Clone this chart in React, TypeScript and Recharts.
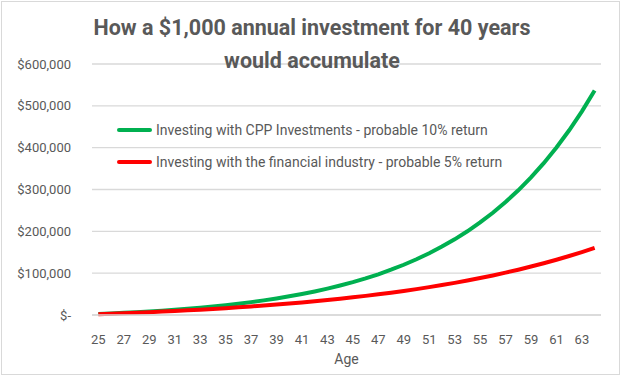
import React from 'react';
import { LineChart, Line, XAxis, YAxis, CartesianGrid, Legend } from 'recharts';

const AGES = [
  25, 26, 27, 28, 29, 30, 31, 32, 33, 34, 35, 36, 37, 38, 39, 40, 41, 42, 43, 44,
  45, 46, 47, 48, 49, 50, 51, 52, 53, 54, 55, 56, 57, 58, 59, 60, 61, 62, 63, 64,
];

// 10% return series
const CPP_VALUES = [
  2300, 3600, 5100, 6700, 8500, 10400, 12600, 14900, 17500, 20400,
  23500, 27000, 30800, 35000, 39500, 44600, 50200, 56300, 63000, 70400,
  78500, 87500, 97300, 108200, 120100, 133200, 147600, 163500, 180900, 200100,
  221300, 244500, 270000, 298100, 329000, 363000, 400400, 441600, 486900, 536600,
];

// 5% return series
const INDUSTRY_VALUES = [
  2000, 3100, 4300, 5500, 6800, 8200, 9600, 11200, 12800, 14600,
  16400, 18400, 20400, 22600, 25000, 27400, 30000, 32800, 35800, 38900,
  42200, 45700, 49400, 53300, 57500, 61900, 66600, 71600, 76800, 82400,
  88300, 94600, 101300, 108300, 115800, 123700, 132100, 141000, 150400, 160400,
];

const X_TICKS = [25, 27, 29, 31, 33, 35, 37, 39, 41, 43, 45, 47, 49, 51, 53, 55, 57, 59, 61, 63];
const Y_TICKS = [0, 100000, 200000, 300000, 400000, 500000, 600000];

const SERIES = [
  { key: 'cpp', name: 'Investing with CPP Investments - probable 10% return', color: '#00B050' },
  { key: 'industry', name: 'Investing with the financial industry - probable 5% return', color: '#FF0000' },
];

const data = AGES.map((age, i) => ({ age, cpp: CPP_VALUES[i], industry: INDUSTRY_VALUES[i] }));

const FONT = "Roboto, 'Liberation Sans', sans-serif";
const GREY = '#595959';

const formatMoney = (v: number) => (v === 0 ? '$-' : '$' + v.toLocaleString('en-US'));

const LegendContent = () => (
  <div style={{ fontFamily: FONT, fontSize: 14, color: GREY }}>
    {SERIES.map((s) => (
      <div key={s.key} style={{ display: 'flex', alignItems: 'center', height: 32 }}>
        <div style={{ width: 35, height: 4, background: s.color, borderRadius: 2, marginRight: 4 }} />
        <span>{s.name}</span>
      </div>
    ))}
  </div>
);

export default function App() {
  return (
    <div style={{ position: 'absolute', left: 0, top: 0, width: 624, height: 376, background: '#fff' }}>
      <div
        style={{
          position: 'absolute',
          left: 1,
          top: 1,
          width: 619,
          height: 374,
          border: '1px solid #d9d9d9',
          boxSizing: 'border-box',
        }}
      />
      <LineChart
        width={624}
        height={376}
        data={data}
        margin={{ top: 64, right: 23, left: 0, bottom: 11 }}
        style={{ position: 'absolute', left: 0, top: 0 }}
      >
        <CartesianGrid vertical={false} stroke="#d9d9d9" strokeWidth={1.3} />
        <XAxis
          dataKey="age"
          type="number"
          domain={[24.5, 64.5]}
          ticks={X_TICKS}
          interval={0}
          height={50}
          axisLine={{ stroke: '#d9d9d9', strokeWidth: 1.3 }}
          tickLine={false}
          tickSize={0}
          tickMargin={20}
          tick={{ fontSize: 13, fill: GREY, fontFamily: FONT }}
          label={{ value: 'Age', position: 'insideBottom', offset: 1, fontSize: 14, fill: GREY, fontFamily: FONT }}
        />
        <YAxis
          width={92}
          domain={[0, 600000]}
          ticks={Y_TICKS}
          axisLine={false}
          tickLine={false}
          tickSize={0}
          tickMargin={21}
          tickFormatter={formatMoney}
          tick={{ fontSize: 13, fill: GREY, fontFamily: FONT }}
        />
        <Legend
          layout="vertical"
          verticalAlign="middle"
          align="center"
          content={<LegendContent />}
          wrapperStyle={{ left: 117, top: 114, width: 440 }}
        />
        {SERIES.map((s) => (
          <Line
            key={s.key}
            dataKey={s.key}
            name={s.name}
            stroke={s.color}
            strokeWidth={4}
            dot={false}
            type="linear"
            isAnimationActive={false}
          />
        ))}
      </LineChart>
      <div
        style={{
          position: 'absolute',
          left: 0,
          top: 11,
          width: 624,
          textAlign: 'center',
          fontFamily: FONT,
          fontWeight: 700,
          fontSize: 21.5,
          lineHeight: '33px',
          color: GREY,
        }}
      >
        How a $1,000 annual investment for 40 years
        <br />
        would accumulate
      </div>
    </div>
  );
}
